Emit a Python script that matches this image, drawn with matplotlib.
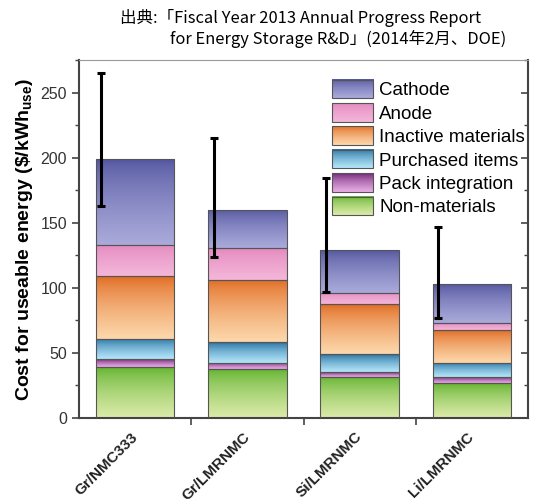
import numpy as np
import matplotlib
matplotlib.use("Agg")
import matplotlib.pyplot as plt
from matplotlib.legend_handler import HandlerBase
from matplotlib.image import BboxImage
from matplotlib.transforms import Bbox, TransformedBbox
from matplotlib.patches import Rectangle, Patch
from matplotlib.ticker import MultipleLocator, FixedLocator

plt.rcParams['font.family'] = ['Liberation Sans', 'DejaVu Sans']
plt.rcParams['mathtext.fontset'] = 'custom'
plt.rcParams['mathtext.rm'] = 'Liberation Sans'
plt.rcParams['mathtext.bf'] = 'Liberation Sans:bold'
plt.rcParams['mathtext.it'] = 'Liberation Sans:italic'

# ---------------- data ----------------
categories = ["Gr/NMC333", "Gr/LMRNMC", "Si/LMRNMC", "Li/LMRNMC"]
components = ["Non-materials", "Pack integration", "Purchased items",
              "Inactive materials", "Anode", "Cathode"]
non_materials = [39.0, 37.4, 31.8, 26.7]
pack_integration = [6.1, 5.1, 3.8, 4.6]
purchased_items = [15.7, 15.5, 13.4, 11.3]
inactive_materials = [48.2, 48.0, 38.4, 25.1]
anode = [24.0, 24.5, 9.0, 5.1]
cathode = [66.0, 29.5, 32.6, 29.9]
err_low = [163, 124, 97, 77]
err_high = [265, 215, 184, 147]

series = [non_materials, pack_integration, purchased_items,
          inactive_materials, anode, cathode]

# gradient colours (top, bottom) per component
grad_colors = {
    "Non-materials": ("#5fb22c", "#dcebaa"),
    "Pack integration": ("#6a1f72", "#e9aee4"),
    "Purchased items": ("#1f6c9e", "#b4e6fa"),
    "Inactive materials": ("#e0681e", "#fdd8ac"),
    "Anode": ("#e286bd", "#f4b6d9"),
    "Cathode": ("#52559f", "#aaaadb"),
}


def make_grad(top, bottom, n=64):
    t = np.linspace(0, 1, n)[:, None]
    c0 = np.array(matplotlib.colors.to_rgb(top))
    c1 = np.array(matplotlib.colors.to_rgb(bottom))
    tt = t ** 0.7
    arr = c0 * (1 - tt) + c1 * tt
    return arr[:, None, :]


class GradientHandler(HandlerBase):
    def __init__(self, grad):
        super().__init__()
        self.grad = grad

    def create_artists(self, legend, orig_handle, xdescent, ydescent,
                       width, height, fontsize, trans):
        bb = TransformedBbox(Bbox.from_bounds(-xdescent, -ydescent, width, height), trans)
        img = BboxImage(bb, interpolation='bilinear')
        img.set_data(self.grad)
        rect = Rectangle((-xdescent, -ydescent), width, height, facecolor='none',
                         edgecolor='#555555', lw=0.8, transform=trans)
        return [img, rect]


fig = plt.figure(figsize=(5.34, 4.99), dpi=100)
ax = fig.add_axes([0.148, 0.1623, 0.841, 0.7175])

x = np.arange(len(categories))
width = 0.7
bottom = np.zeros(len(categories))
handles = []
handler_map = {}
for name, vals in zip(components, series):
    vals = np.array(vals)
    bars = ax.bar(x, vals, width=width, bottom=bottom, color='none',
                  edgecolor='#555555', linewidth=0.8, zorder=3)
    grad = make_grad(*grad_colors[name])
    for p in bars.patches:
        x0, y0 = p.get_x(), p.get_y()
        x1, y1 = x0 + p.get_width(), y0 + p.get_height()
        im = ax.imshow(grad, extent=[x0, x1, y0, y1], aspect='auto',
                       interpolation='bilinear', zorder=2)
        im.set_clip_path(p)
    bottom = bottom + vals
    h = Patch(label=name)
    handles.append(h)
    handler_map[h] = GradientHandler(grad)

# error bars (offset toward the left side of each bar)
err_low = np.array(err_low, float)
err_high = np.array(err_high, float)
center = (err_low + err_high) / 2
ax.errorbar(x - 0.30, center, yerr=[center - err_low, err_high - center],
            fmt='none', ecolor='black', elinewidth=2.2, capsize=3.2,
            capthick=2.2, zorder=5)

ax.set_xlim(-0.5, 3.5)
ax.set_ylim(0, 275)

# y ticks
ax.yaxis.set_major_locator(MultipleLocator(50))
ax.yaxis.set_minor_locator(MultipleLocator(25))
ax.tick_params(axis='y', which='both', direction='out', left=True, right=True,
               labelsize=11.5, labelcolor='#333333', color='#444444')
ax.tick_params(axis='y', which='major', length=5, width=1.2)
ax.tick_params(axis='y', which='minor', length=3, width=1.0)
for t in ax.yaxis.get_major_ticks() + ax.yaxis.get_minor_ticks():
    t.tick2line.set_marker(0)  # right ticks pointing inward

# x ticks: labels at bar centers, tick marks between bars
ax.set_xticks(x)
ax.set_xticklabels(categories, rotation=45, ha='right', va='center',
                   rotation_mode='anchor', fontsize=11, fontweight='bold',
                   color='#222222')
ax.tick_params(axis='x', which='major', length=0, pad=12)
ax.xaxis.set_minor_locator(FixedLocator([0.5, 1.5, 2.5]))
ax.tick_params(axis='x', which='minor', length=5, width=1.2, direction='out',
               color='#444444')

for side in ['left', 'right', 'bottom']:
    ax.spines[side].set_color('#444444')
    ax.spines[side].set_linewidth(1.5)
ax.spines['top'].set_color('#999999')
ax.spines['top'].set_linewidth(0.8)

ax.set_ylabel(r"Cost for useable energy (\$/kWh$_{\mathbf{use}}$)",
              fontsize=14, fontweight='bold', labelpad=4)

leg = ax.legend(handles=handles[::-1], handler_map=handler_map,
                loc='upper left', bbox_to_anchor=(0.563, 0.945),
                frameon=False, fontsize=13.5, handlelength=2.2,
                handleheight=1.15, labelspacing=0.2, handletextpad=0.33,
                borderpad=0, borderaxespad=0)

jp = ['Noto Sans CJK JP', 'DejaVu Sans']
fig.text(120 / 534, 1 - 18 / 499, "出典:「Fiscal Year 2013 Annual Progress Report",
         family=jp, fontsize=11.9, ha='left', va='center')
fig.text(170 / 534, 1 - 39 / 499, "for Energy Storage R&D」(2014年2月、DOE)",
         family=jp, fontsize=11.9, ha='left', va='center')

fig.savefig("out.png", dpi=100)
